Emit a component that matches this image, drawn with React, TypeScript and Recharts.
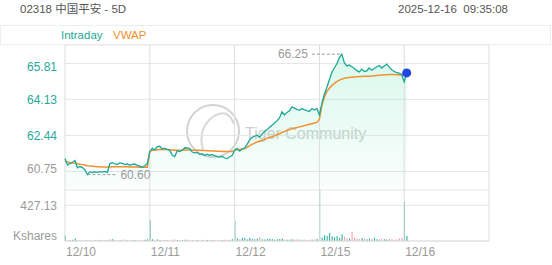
import React from "react";
import {
  Area,
  Bar,
  CartesianGrid,
  Cell,
  ComposedChart,
  Line,
  ReferenceDot,
  ReferenceLine,
  XAxis,
  YAxis
} from "recharts";

const dayLabels = ["12/10", "12/11", "12/12", "12/15", "12/16"];
const slotsPerDay = 34;
const totalSlots = 170;

const priceDay1 = [61.36, 61.05, 61.12, 61.18, 61.26, 60.92, 60.98, 60.93, 60.82, 60.6, 60.74, 60.7, 60.73, 60.71, 60.74, 60.72, 60.75, 60.71, 61.12, 61.16, 61.1, 61.08, 61.15, 61.13, 61.07, 61.11, 61.04, 61.08, 61.1, 61.03, 61.0, 60.95, 61.02, 61.12];
const priceDay2 = [61.67, 61.83, 61.76, 61.92, 61.93, 61.8, 61.84, 61.78, 61.74, 61.52, 61.45, 61.72, 61.68, 61.74, 61.86, 61.85, 61.82, 61.66, 61.62, 61.64, 61.55, 61.58, 61.5, 61.56, 61.51, 61.54, 61.49, 61.45, 61.42, 61.46, 61.38, 61.35, 61.44, 61.5];
const priceDay3 = [61.75, 61.83, 61.7, 61.8, 61.84, 62.02, 62.22, 62.35, 62.4, 62.45, 62.36, 62.5, 62.62, 62.7, 62.82, 62.92, 63.02, 63.12, 63.26, 63.55, 63.4, 63.52, 63.6, 63.78, 63.72, 63.66, 63.62, 63.7, 63.64, 63.6, 63.56, 63.7, 63.63, 63.7];
const priceDay4 = [63.4, 63.95, 64.38, 64.7, 65.05, 65.4, 65.6, 65.8, 66.08, 66.25, 65.85, 65.7, 65.74, 65.66, 65.58, 65.48, 65.42, 65.55, 65.44, 65.47, 65.6, 65.5, 65.58, 65.66, 65.72, 65.6, 65.7, 65.78, 65.64, 65.52, 65.44, 65.38, 65.36, 65.3];
const priceDay5 = [64.95, 65.37];

const vwapDay1 = [61.25, 61.2, 61.17, 61.15, 61.14, 61.11, 61.09, 61.07, 61.05, 61.02, 61.0, 60.99, 60.98, 60.97, 60.97, 60.96, 60.96, 60.96, 60.96, 60.97, 60.97, 60.97, 60.97, 60.97, 60.97, 60.97, 60.96, 60.96, 60.96, 60.96, 60.95, 60.95, 60.95, 60.95];
const vwapDay2 = [61.7, 61.74, 61.75, 61.77, 61.78, 61.78, 61.78, 61.78, 61.77, 61.76, 61.75, 61.75, 61.75, 61.75, 61.76, 61.76, 61.76, 61.75, 61.75, 61.74, 61.74, 61.73, 61.73, 61.72, 61.72, 61.71, 61.71, 61.7, 61.7, 61.69, 61.69, 61.68, 61.68, 61.68];
const vwapDay3 = [61.75, 61.77, 61.78, 61.8, 61.83, 61.88, 61.95, 62.02, 62.08, 62.13, 62.17, 62.21, 62.26, 62.3, 62.34, 62.38, 62.42, 62.47, 62.52, 62.58, 62.63, 62.67, 62.71, 62.75, 62.78, 62.81, 62.84, 62.87, 62.9, 62.93, 62.96, 62.99, 63.02, 63.05];
const vwapDay4 = [63.2, 63.85, 64.25, 64.5, 64.65, 64.78, 64.88, 64.96, 65.03, 65.08, 65.12, 65.14, 65.16, 65.17, 65.18, 65.19, 65.2, 65.2, 65.21, 65.22, 65.22, 65.23, 65.24, 65.25, 65.26, 65.27, 65.28, 65.29, 65.3, 65.3, 65.3, 65.29, 65.28, 65.27];
const vwapDay5 = [65.25, 65.26];

// Kshares
const volDay1 = [70, 10, 8, 14, 30, 9, 6, 8, 10, 12, 7, 6, 5, 8, 10, 14, 9, 8, 18, 20, 12, 9, 8, 15, 18, 10, 8, 7, 12, 9, 8, 10, 16, 22];
const volDay2 = [250, 22, 14, 18, 12, 10, 9, 12, 10, 14, 18, 12, 9, 10, 14, 16, 12, 10, 8, 12, 10, 9, 14, 12, 10, 8, 12, 10, 9, 12, 14, 12, 16, 20];
const volDay3 = [240, 30, 20, 40, 35, 18, 40, 25, 22, 30, 45, 20, 18, 24, 28, 20, 16, 22, 25, 30, 18, 16, 14, 20, 18, 22, 16, 14, 18, 12, 16, 14, 18, 24];
const volDay4 = [610, 40, 70, 60, 95, 55, 45, 60, 40, 80, 50, 35, 30, 110, 45, 30, 25, 35, 28, 22, 30, 25, 40, 20, 18, 30, 22, 18, 25, 20, 16, 22, 30, 40];
const volDay5 = [470, 60];

const priceTicks = [60.75, 62.44, 64.13, 65.81];
const pctLabels = ["0.00%", "2.78%", "5.56%", "8.34%"];
const volumeTicks = [427.13];
const priceDomain = [59.88, 66.68];
const volumeDomain = [0, 610];

const priceDays = [priceDay1, priceDay2, priceDay3, priceDay4, priceDay5];
const vwapDays = [vwapDay1, vwapDay2, vwapDay3, vwapDay4, vwapDay5];
const volDays = [volDay1, volDay2, volDay3, volDay4, volDay5];

const data = priceDays.flatMap((prices, d) =>
  prices.map((price, j) => ({
    idx: d * slotsPerDay + j,
    price,
    vwap: vwapDays[d][j],
    volume: volDays[d][j],
    // the opening print counts as up; after that, compare with the previous minute
    up: j === 0 || price >= prices[j - 1]
  }))
);

const dayTicks = dayLabels.map((_, i) => i * slotsPerDay);
const borderTicks = [...dayTicks, totalSlots];

const highPoint = data.reduce((a, b) => (b.price > a.price ? b : a));
const lowPoint = data.reduce((a, b) => (b.price < a.price ? b : a));
const lastPoint = data[data.length - 1];
const markSpan = 12;

const TEAL = "#1ba896";
const ORANGE = "#f0902e";
const GRAY = "#9a9a9a";
const GRID = "#e6e6e6";
const DOWN_BAR = "#f29a9a";

function PriceTick(props: any) {
  const { x, y, index, textAnchor, label } = props;
  const color = index === 0 ? GRAY : "#26a99a";
  const shift = index === 0 ? -3 : index === priceTicks.length - 1 ? 3 : 0;
  return (
    <text x={x} y={y + shift} dy="0.35em" textAnchor={textAnchor} fill={color} fontSize={12}>
      {label ? label[index] : props.payload.value.toFixed(2)}
    </text>
  );
}

function DateTick(props: any) {
  const { x, y, index } = props;
  return (
    <text x={x + 1} y={y} dy="0.71em" textAnchor="start" fill={GRAY} fontSize={12}>
      {dayLabels[index]}
    </text>
  );
}

function Watermark() {
  return (
    <svg width={552} height={265} style={{ position: "absolute", left: 0, top: 0 }}>
      <circle cx={213} cy={131} r={26} fill="none" stroke="#d2d2d2" strokeWidth={2} />
      <path d="M203 150 Q197 128 214 116 Q228 108 234 124" fill="none" stroke="#d8d8d8" strokeWidth={2} />
      <text x={245} y={139} fontSize={16} fill="#d0d0d0">
        Tiger Community
      </text>
    </svg>
  );
}

export default function App() {
  return (
    <div
      style={{
        position: "absolute",
        left: 0,
        top: 0,
        width: 552,
        height: 265,
        background: "#fff",
        fontFamily: '"Liberation Sans", Arial, "Noto Sans CJK SC", sans-serif',
        overflow: "hidden"
      }}
    >
      <div style={{ position: "absolute", left: 20, top: 2, fontSize: 11.5, lineHeight: "14px", color: "#555" }}>
        02318 中国平安 - 5D
      </div>
      <div style={{ position: "absolute", right: 44, top: 2, fontSize: 11.5, lineHeight: "14px", color: "#555", whiteSpace: "pre" }}>
        2025-12-16  09:35:08
      </div>
      <div
        style={{
          position: "absolute",
          left: 0,
          top: 25,
          width: 551,
          height: 20,
          boxSizing: "border-box",
          border: "1px solid #eeeeee"
        }}
      />
      <div style={{ position: "absolute", left: 61, top: 28, fontSize: 11.5, lineHeight: "14px", color: TEAL }}>Intraday</div>
      <div style={{ position: "absolute", left: 113, top: 28, fontSize: 11.5, lineHeight: "14px", color: ORANGE }}>VWAP</div>

      <Watermark />

      <div style={{ position: "absolute", left: 0, top: 0 }}>
        <ComposedChart width={552} height={190} data={data} margin={{ top: 45, right: 0, bottom: 0, left: 0 }}>
          <defs>
            <linearGradient id="priceFill" x1="0" y1="0" x2="0" y2="1">
              <stop offset="0%" stopColor="#2fd996" stopOpacity={0.3} />
              <stop offset="100%" stopColor="#2fd996" stopOpacity={0.04} />
            </linearGradient>
          </defs>
          <XAxis dataKey="idx" type="number" domain={[0, totalSlots]} hide />
          <YAxis
            yAxisId="price"
            domain={priceDomain}
            ticks={priceTicks}
            width={65}
            axisLine={false}
            tickLine={false}
            tick={<PriceTick />}
          />
          <YAxis
            yAxisId="pct"
            orientation="right"
            domain={priceDomain}
            ticks={priceTicks}
            width={63}
            axisLine={false}
            tickLine={false}
            tickSize={2}
            tick={<PriceTick label={pctLabels} />}
          />
          <CartesianGrid yAxisId="price" vertical={false} stroke={GRID} />
          {borderTicks.map((t) => (
            <ReferenceLine key={t} yAxisId="price" x={t} stroke="#dddddd" />
          ))}
          <Area
            yAxisId="price"
            dataKey="price"
            type="linear"
            stroke="none"
            fill="url(#priceFill)"
            isAnimationActive={false}
          />
          <Line yAxisId="price" dataKey="vwap" type="linear" stroke={ORANGE} strokeWidth={1.5} dot={false} isAnimationActive={false} />
          <Line yAxisId="price" dataKey="price" type="linear" stroke={TEAL} strokeWidth={1.3} dot={false} isAnimationActive={false} />
          <ReferenceLine
            yAxisId="price"
            segment={[
              { x: highPoint.idx - markSpan, y: highPoint.price },
              { x: highPoint.idx, y: highPoint.price }
            ]}
            stroke={GRAY}
            strokeDasharray="3 2"
            label={{ value: highPoint.price.toFixed(2), position: "left", fill: GRAY, fontSize: 12, offset: 4 }}
          />
          <ReferenceLine
            yAxisId="price"
            segment={[
              { x: lowPoint.idx, y: lowPoint.price },
              { x: lowPoint.idx + markSpan, y: lowPoint.price }
            ]}
            stroke={GRAY}
            strokeDasharray="3 2"
            label={{ value: lowPoint.price.toFixed(2), position: "right", fill: GRAY, fontSize: 12, offset: 3 }}
          />
          <ReferenceDot yAxisId="price" x={lastPoint.idx} y={lastPoint.price} r={4.5} fill="#1f48e0" stroke="none" />
        </ComposedChart>
      </div>

      <div style={{ position: "absolute", left: 0, top: 190 }}>
        <ComposedChart width={552} height={75} data={data} margin={{ top: 0, right: 63, bottom: 0, left: 0 }}>
          <XAxis
            dataKey="idx"
            type="number"
            domain={[0, totalSlots]}
            ticks={dayTicks}
            height={24}
            tickSize={4}
            tickLine={false}
            axisLine={{ stroke: "#dddddd" }}
            tick={<DateTick />}
          />
          <YAxis
            domain={volumeDomain}
            ticks={volumeTicks}
            width={65}
            axisLine={false}
            tickLine={false}
            tick={{ fill: GRAY, fontSize: 12 }}
            tickFormatter={(v: number) => v.toFixed(2)}
            label={{
              content: (p: any) => (
                <text
                  x={p.viewBox.x + p.viewBox.width - 8}
                  y={p.viewBox.y + p.viewBox.height - 1}
                  textAnchor="end"
                  fill={GRAY}
                  fontSize={12}
                >
                  Kshares
                </text>
              )
            }}
          />
          <CartesianGrid vertical={false} stroke={GRID} />
          {borderTicks.map((t) => (
            <ReferenceLine key={t} x={t} stroke="#dddddd" />
          ))}
          <Bar dataKey="volume" barSize={1} isAnimationActive={false}>
            {data.map((d, i) => (
              <Cell key={i} fill={d.up ? TEAL : DOWN_BAR} />
            ))}
          </Bar>
        </ComposedChart>
      </div>
    </div>
  );
}
